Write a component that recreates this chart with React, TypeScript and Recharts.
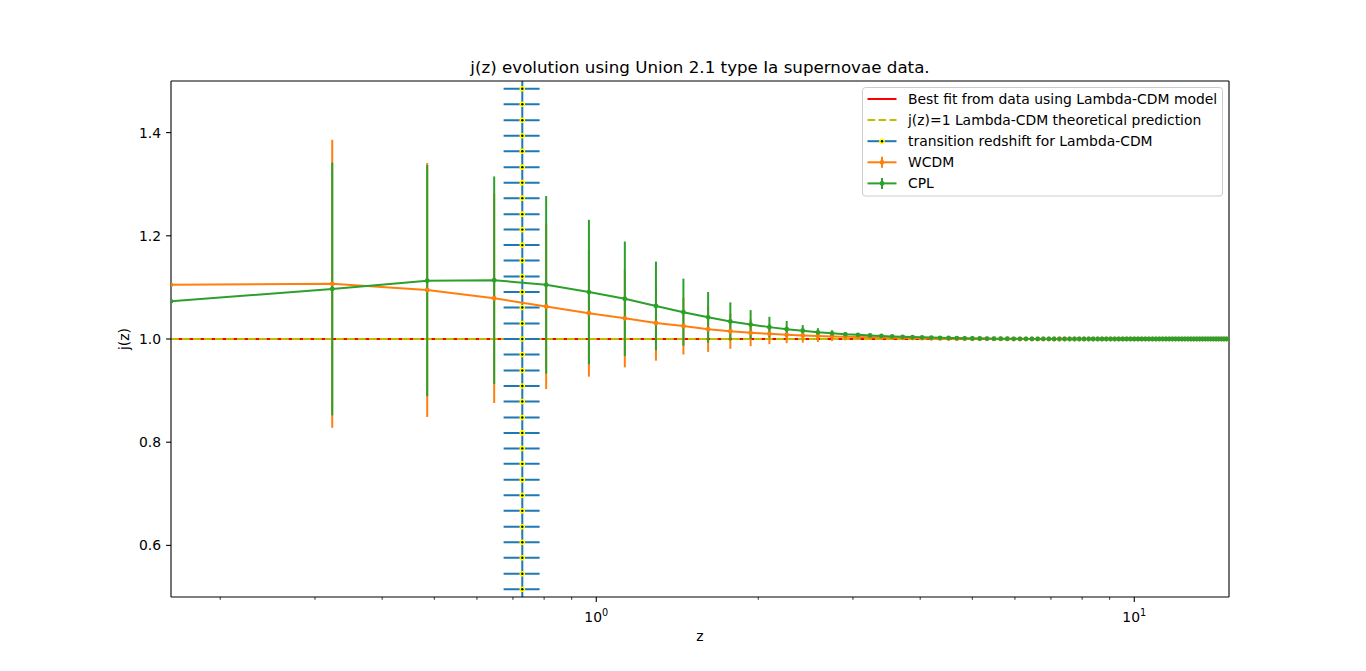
import { ComposedChart, Line, Scatter, XAxis, YAxis, ErrorBar, ReferenceLine } from 'recharts';

// redshift grid shared by the WCDM and CPL curves
const zValues = [
  0.162, 0.323, 0.485, 0.646, 0.807, 0.969, 1.13, 1.291, 1.452, 1.614,
  1.775, 1.936, 2.098, 2.259, 2.42, 2.582, 2.743, 2.904, 3.065, 3.227,
  3.388, 3.549, 3.711, 3.872, 4.033, 4.195, 4.356, 4.517, 4.678, 4.84,
  5.001, 5.162, 5.324, 5.485, 5.646, 5.808, 5.969, 6.13, 6.291, 6.453,
  6.614, 6.775, 6.937, 7.098, 7.259, 7.421, 7.582, 7.743, 7.904, 8.066,
  8.227, 8.388, 8.55, 8.711, 8.872, 9.034, 9.195, 9.356, 9.517, 9.679,
  9.84, 10.001, 10.163, 10.324, 10.485, 10.647, 10.808, 10.969, 11.13, 11.292,
  11.453, 11.614, 11.776, 11.937, 12.098, 12.26, 12.421, 12.582, 12.743, 12.905,
  13.066, 13.227, 13.389, 13.55, 13.711, 13.873, 14.034, 14.195, 14.356, 14.518,
  14.679, 14.84, 15.0,
];

const wcdmValues = [
  1.105, 1.107, 1.095, 1.079, 1.063, 1.05, 1.04, 1.031, 1.025, 1.019,
  1.015, 1.012, 1.01, 1.008, 1.007, 1.006, 1.005, 1.0045, 1.004, 1.0035,
  1.003, 1.0026, 1.0022, 1.0019, 1.0016, 1.0013, 1.0011, 1.0009, 1.0007, 1.0006,
  1.0005, 1.0004, 1.0003, 1.0002, 1.0002, 1.0001, 1, 1, 1, 1,
  1, 1, 1, 1, 1, 1, 1, 1, 1, 1,
  1, 1, 1, 1, 1, 1, 1, 1, 1, 1,
  1, 1, 1, 1, 1, 1, 1, 1, 1, 1,
  1, 1, 1, 1, 1, 1, 1, 1, 1, 1,
  1, 1, 1, 1, 1, 1, 1, 1, 1, 1,
  1, 1, 1,
];

const wcdmErrors = [
  0, 0.279, 0.246, 0.203, 0.16, 0.123, 0.095, 0.073, 0.055, 0.044,
  0.034, 0.026, 0.02, 0.016, 0.014, 0.012, 0.009, 0.007, 0.005, 0.004,
  0.003, 0.0025, 0.002, 0.0015, 0.0012, 0.001, 0.0008, 0.0006, 0.0005, 0.0004,
  0.0003, 0.0002, 0.0002, 0.0001, 0, 0, 0, 0, 0, 0,
  0, 0, 0, 0, 0, 0, 0, 0, 0, 0,
  0, 0, 0, 0, 0, 0, 0, 0, 0, 0,
  0, 0, 0, 0, 0, 0, 0, 0, 0, 0,
  0, 0, 0, 0, 0, 0, 0, 0, 0, 0,
  0, 0, 0, 0, 0, 0, 0, 0, 0, 0,
  0, 0, 0,
];

const cplValues = [
  1.073, 1.097, 1.113, 1.114, 1.105, 1.091, 1.078, 1.064, 1.052, 1.042,
  1.034, 1.028, 1.023, 1.019, 1.016, 1.013, 1.011, 1.009, 1.008, 1.007,
  1.006, 1.005, 1.0043, 1.0037, 1.0032, 1.0027, 1.0023, 1.002, 1.0017, 1.0014,
  1.0012, 1.001, 1.0008, 1.0007, 1.0006, 1.0005, 1.0004, 1.0003, 1.0003, 1.0002,
  1.0002, 1.0001, 1.0001, 1, 1, 1, 1, 1, 1, 1,
  1, 1, 1, 1, 1, 1, 1, 1, 1, 1,
  1, 1, 1, 1, 1, 1, 1, 1, 1, 1,
  1, 1, 1, 1, 1, 1, 1, 1, 1, 1,
  1, 1, 1, 1, 1, 1, 1, 1, 1, 1,
  1, 1, 1,
];

const cplErrors = [
  0, 0.245, 0.224, 0.201, 0.172, 0.14, 0.111, 0.086, 0.065, 0.049,
  0.037, 0.028, 0.02, 0.016, 0.011, 0.008, 0.006, 0.0045, 0.0035, 0.0027,
  0.002, 0.0015, 0.0012, 0.0009, 0.0007, 0.0005, 0.0004, 0.0003, 0.0002, 0.0002,
  0.0001, 0, 0, 0, 0, 0, 0, 0, 0, 0,
  0, 0, 0, 0, 0, 0, 0, 0, 0, 0,
  0, 0, 0, 0, 0, 0, 0, 0, 0, 0,
  0, 0, 0, 0, 0, 0, 0, 0, 0, 0,
  0, 0, 0, 0, 0, 0, 0, 0, 0, 0,
  0, 0, 0, 0, 0, 0, 0, 0, 0, 0,
  0, 0, 0,
];

// transition redshift marker column
const transitionZ = 0.7286;
const transitionZErr = 0.056;
const transitionJ = [
  0.515, 0.545, 0.576, 0.606, 0.636, 0.667, 0.697, 0.727, 0.758,
  0.788, 0.818, 0.848, 0.879, 0.909, 0.939, 0.97, 1.0, 1.03, 1.061,
  1.091, 1.121, 1.152, 1.182, 1.212, 1.242, 1.273, 1.303, 1.333, 1.364,
  1.394, 1.424, 1.455, 1.485,
];

const bestFitJ = 1;
const theoryJ = 1;

const xDomain = [0.162, 15];
const yDomain = [0.5, 1.5];
const xMajorTicks = [1, 10];
const xMinorTicks = [0.2, 0.3, 0.4, 0.5, 0.6, 0.7, 0.8, 0.9, 2, 3, 4, 5, 6, 7, 8, 9];
const yTicks = [0.6, 0.8, 1.0, 1.2, 1.4];

const C0 = '#1f77b4';
const C1 = '#ff7f0e';
const C2 = '#2ca02c';

const rows = zValues.map((z, i) => ({
  z,
  wcdm: wcdmValues[i],
  wcdmErr: wcdmErrors[i],
  cpl: cplValues[i],
  cplErr: cplErrors[i],
}));

const transitionRows = transitionJ.map((j) => ({ z: transitionZ, j, xerr: transitionZErr }));

const XTick = (props: any) => {
  const { x, y, payload } = props;
  const major = xMajorTicks.includes(payload.value);
  const exp = Math.round(Math.log10(payload.value));
  return (
    <g>
      <line x1={x} x2={x} y1={y} y2={y + (major ? 4.9 : 2.8)} stroke="#000" strokeWidth={major ? 1.1 : 0.8} />
      {major && (
        <text x={x} y={y + 24.5} textAnchor="middle" fontSize={13.9} fill="#000">
          10<tspan dy={-5.5} fontSize={9.7}>{exp}</tspan>
        </text>
      )}
    </g>
  );
};

const TransitionDot = (props: any) => {
  const { cx, cy } = props;
  return (
    <g>
      <circle cx={cx} cy={cy} r={2.8} fill="#ffff00" />
      <circle cx={cx} cy={cy} r={1.2} fill="#000" />
    </g>
  );
};

const legendItems = [
  { label: 'Best fit from data using Lambda-CDM model', kind: 'line', color: '#ff0000' },
  { label: 'j(z)=1 Lambda-CDM theoretical prediction', kind: 'dash', color: '#bfbf00' },
  { label: 'transition redshift for Lambda-CDM', kind: 'marker', color: C0 },
  { label: 'WCDM', kind: 'err', color: C1 },
  { label: 'CPL', kind: 'err', color: C2 },
];

function LegendBox() {
  return (
    <svg
      width={362}
      height={110}
      style={{ position: 'absolute', left: 861.5, top: 87, pointerEvents: 'none' }}
    >
      <rect x={0.5} y={0.5} width={360} height={108.5} rx={3} fill="rgba(255,255,255,0.8)" stroke="#cccccc" />
      {legendItems.map((it, i) => {
        const cy = 12 + 21.1 * i;
        return (
          <g key={it.label}>
            <line
              x1={5.5}
              x2={34.5}
              y1={cy}
              y2={cy}
              stroke={it.color}
              strokeWidth={2}
              strokeDasharray={it.kind === 'dash' ? '7.7 3.3' : undefined}
            />
            {it.kind === 'marker' && (
              <g>
                <circle cx={20} cy={cy} r={2.8} fill="#ffff00" />
                <circle cx={20} cy={cy} r={1.2} fill="#000" />
              </g>
            )}
            {it.kind === 'err' && (
              <g>
                <line x1={20} x2={20} y1={cy - 5.5} y2={cy + 5.5} stroke={it.color} strokeWidth={2} />
                <circle cx={20} cy={cy} r={2.4} fill={it.color} />
              </g>
            )}
            <text x={46} y={cy + 5} fontSize={13.9} fill="#000">
              {it.label}
            </text>
          </g>
        );
      })}
    </svg>
  );
}

export default function App() {
  return (
    <div
      style={{
        position: 'absolute',
        left: 0,
        top: 0,
        width: 1366,
        height: 671,
        background: '#fff',
        fontFamily: '"DejaVu Sans", sans-serif',
      }}
    >
      <ComposedChart width={1366} height={671} data={rows} margin={{ top: 81, right: 137, bottom: 34, left: 111 }}>
        <XAxis
          dataKey="z"
          type="number"
          scale="log"
          domain={xDomain}
          allowDataOverflow
          ticks={[...xMinorTicks, ...xMajorTicks].sort((a, b) => a - b)}
          interval={0}
          tickSize={0}
          tickMargin={0}
          tickLine={false}
          tick={XTick}
          axisLine={{ stroke: '#000', strokeWidth: 1.1 }}
          height={40}
        />
        <YAxis
          type="number"
          domain={yDomain}
          allowDataOverflow
          ticks={yTicks}
          tickFormatter={(v: number) => v.toFixed(1)}
          tickSize={4.9}
          tickMargin={5}
          tick={{ fill: '#000', fontSize: 13.9 }}
          tickLine={{ stroke: '#000', strokeWidth: 1.1 }}
          axisLine={{ stroke: '#000', strokeWidth: 1.1 }}
          width={60}
        />

        <ReferenceLine y={bestFitJ} stroke="#ff0000" strokeWidth={2} />
        <ReferenceLine y={theoryJ} stroke="#bfbf00" strokeWidth={2} strokeDasharray="7.7 3.3" />
        <ReferenceLine x={transitionZ} stroke={C0} strokeWidth={2} />

        <Scatter data={transitionRows} dataKey="j" shape={TransitionDot} isAnimationActive={false}>
          <ErrorBar dataKey="xerr" direction="x" width={0} stroke={C0} strokeWidth={2} />
        </Scatter>

        {/* error bars first, so both curves sit above them */}
        <Line dataKey="wcdm" stroke="none" dot={false} activeDot={false} isAnimationActive={false}>
          <ErrorBar dataKey="wcdmErr" direction="y" width={0} stroke={C1} strokeWidth={2} />
        </Line>
        <Line dataKey="cpl" stroke="none" dot={false} activeDot={false} isAnimationActive={false}>
          <ErrorBar dataKey="cplErr" direction="y" width={0} stroke={C2} strokeWidth={2} />
        </Line>
        <Line
          dataKey="wcdm"
          type="linear"
          stroke={C1}
          strokeWidth={2}
          dot={{ r: 2.4, fill: C1, stroke: C1, strokeWidth: 0 }}
          activeDot={false}
          isAnimationActive={false}
        />
        <Line
          dataKey="cpl"
          type="linear"
          stroke={C2}
          strokeWidth={2}
          dot={{ r: 2.4, fill: C2, stroke: C2, strokeWidth: 0 }}
          activeDot={false}
          isAnimationActive={false}
        />

        {/* top and right frame lines */}
        <ReferenceLine y={yDomain[1]} stroke="#000" strokeWidth={1.1} />
        <ReferenceLine x={xDomain[1]} stroke="#000" strokeWidth={1.1} />
      </ComposedChart>

      <svg width={1366} height={671} style={{ position: 'absolute', left: 0, top: 0, pointerEvents: 'none' }}>
        <text x={700} y={72.7} textAnchor="middle" fontSize={16.7} fill="#000">
          j(z) evolution using Union 2.1 type Ia supernovae data.
        </text>
        <text x={700} y={641} textAnchor="middle" fontSize={13.9} fill="#000">
          z
        </text>
        <text x={128.9} y={339} textAnchor="middle" fontSize={13.9} fill="#000" transform="rotate(-90 128.9 339)">
          j(z)
        </text>
      </svg>
      <LegendBox />
    </div>
  );
}
